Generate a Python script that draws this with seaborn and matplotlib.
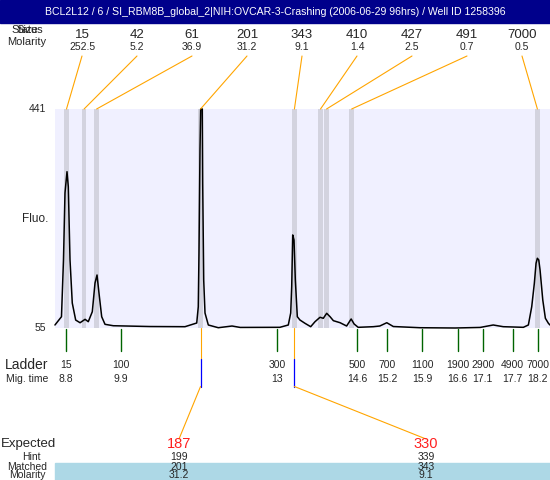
import numpy as np
import pandas as pd
import matplotlib
matplotlib.use("Agg")
import matplotlib.pyplot as plt
import matplotlib.transforms as mtransforms
from matplotlib.patches import Rectangle
import seaborn as sns

# electropherogram trace (migration time in s, fluorescence)
trace_time = [8.58, 8.71, 8.75, 8.78, 8.82, 8.846, 8.88, 8.925, 8.993, 9.08,
              9.18, 9.244, 9.324, 9.378, 9.418, 9.457, 9.511, 9.577, 9.742, 10.47,
              11.17, 11.404, 11.435, 11.449, 11.469, 11.483, 11.515, 11.523, 11.543, 11.569,
              11.635, 11.834, 12.107, 12.27, 13.06, 13.228, 13.276, 13.296, 13.316, 13.342,
              13.368, 13.408, 13.46, 13.56, 13.674, 13.76, 13.86, 13.925, 13.993, 14.06,
              14.126, 14.26, 14.39, 14.48, 14.54, 14.62, 14.92, 15.05, 15.19, 15.32,
              15.85, 16.55, 17.05, 17.31, 17.51, 17.91, 18.01, 18.077, 18.129, 18.163,
              18.189, 18.217, 18.243, 18.297, 18.349, 18.409, 18.44]
trace_fluo = [60.3, 74.9, 174.9, 293, 330.5, 304, 175, 99, 69, 64.3,
              70.3, 66.1, 83.7, 134.3, 148.4, 116.7, 74.9, 61.5, 59, 57.6,
              57.3, 63.8, 92.5, 187, 368.7, 441, 441, 310.6, 139.6, 81.4,
              60.3, 55.5, 58.5, 56, 56.2, 60.3, 81.4, 127.8, 219, 210,
              139.6, 74.9, 69.1, 63.3, 57.3, 66.1, 73.9, 72.1, 80.9, 74.9,
              67.9, 64.3, 58.5, 70.9, 62, 56.2, 57.3, 58.5, 64.3, 57.6,
              55.5, 55, 56, 60.3, 57.3, 56.2, 60.3, 92.5, 133.8, 169,
              177.9, 174.9, 157.2, 104.4, 72.1, 63.3, 60.3]

# called peaks
peak_size = ["15", "42", "61", "201", "343", "410", "427", "491", "7000"]
peak_molarity = ["252.5", "5.2", "36.9", "31.2", "9.1", "1.4", "2.5", "0.7", "0.5"]
peak_time = [8.81, 9.16, 9.41, 11.48, 13.35, 13.87, 13.99, 14.49, 18.19]

# ladder
ladder_size = ["15", "100", "300", "500", "700", "1100", "1900", "2900", "4900", "7000"]
ladder_time = [8.8, 9.9, 13, 14.6, 15.2, 15.9, 16.6, 17.1, 17.7, 18.2]

# expected / matched table
expected = ["187", "330"]
hint = ["199", "339"]
matched = ["201", "343"]
matched_molarity = ["31.2", "9.1"]
matched_time = [11.48, 13.35]

title = "BCL2L12 / 6 / SI_RBM8B_global_2|NIH:OVCAR-3-Crashing (2006-06-29 96hrs) / Well ID 1258396"

sns.set_style("white")
plt.rcParams["font.family"] = ["Liberation Sans", "DejaVu Sans"]

W, H = 550, 480
fig = plt.figure(figsize=(W / 100, H / 100), dpi=100)
fig.patch.set_facecolor("white")

# main trace axes
ax = fig.add_axes([55 / W, 1 - 328 / H, 495 / W, 219 / H])
ax.set_facecolor("#F0F0FF")
ax.set_xlim(8.581, 18.441)
ax.set_ylim(55, 441)

for t in peak_time:
    ax.axvspan(t - 0.047, t + 0.047, color="#D3D3DF", lw=0, zorder=1)

df = pd.DataFrame({"time": trace_time, "fluo": trace_fluo})
sns.lineplot(data=df, x="time", y="fluo", ax=ax, color="black", lw=1.1,
             sort=False, estimator=None, zorder=3)
ax.lines[-1].set_clip_on(False)
ax.set_xticks([])
ax.set_yticks([])
ax.set_xlabel("")
ax.set_ylabel("")
for s in ax.spines.values():
    s.set_visible(False)

# overlay in pixel coordinates for annotations
ov = fig.add_axes([0, 0, 1, 1], zorder=5)
ov.set_xlim(0, W)
ov.set_ylim(H, 0)
ov.axis("off")
ov.patch.set_alpha(0)

def px(t):
    return ov.transData.inverted().transform(ax.transData.transform((t, 55)))[0]

ytrans = mtransforms.blended_transform_factory(ov.transData, ax.transData)

orange = "#FFA500"
green = "#006400"
small = 7.5

# title bar
ov.add_patch(Rectangle((0, 0), W, 23, color="#00008B", zorder=3))
ov.text(W / 2, 12, title, color="white", ha="center", va="center", fontsize=7.6, zorder=4)
ov.text(27, 30, "Status", ha="center", va="center", fontsize=8, zorder=2)
ov.text(27, 30, "Size", ha="center", va="center", fontsize=8, zorder=2)
ov.text(27, 42, "Molarity", ha="center", va="center", fontsize=8)

# peak labels and leader lines
for i, (sz, mol, t) in enumerate(zip(peak_size, peak_molarity, peak_time)):
    lx = 82 + 55 * i
    ov.text(lx, 35, sz, ha="center", va="center", fontsize=9.5)
    ov.text(lx, 47, mol, ha="center", va="center", fontsize=small)
    ov.plot([lx, px(t)], [56, 109], color=orange, lw=0.8)

# y axis labels
ov.text(46, 441, "441", transform=ytrans, ha="right", va="center", fontsize=small)
ov.text(46, 55, "55", transform=ytrans, ha="right", va="center", fontsize=small)
ov.text(35, 248, "Fluo.", transform=ytrans, ha="center", va="center", fontsize=8.5)

# ladder
ov.text(27, 365, "Ladder", ha="center", va="center", fontsize=10)
ov.text(27, 379, "Mig. time", ha="center", va="center", fontsize=small)
for sz, t in zip(ladder_size, ladder_time):
    x = px(t)
    ov.plot([x, x], [329, 351], color=green, lw=1)
    ov.text(x, 365, sz, ha="center", va="center", fontsize=small)
    ov.text(x, 379, f"{t:g}", ha="center", va="center", fontsize=small)

# matched peak connectors
expected_x = [179, 426]
for t, ex in zip(matched_time, expected_x):
    x = px(t)
    ov.plot([x, x], [328, 358.5], color=orange, lw=0.8)
    ov.plot([x, x], [358.5, 386.5], color="#0000FF", lw=0.9)
    ov.plot([x, ex], [386.5, 439], color=orange, lw=0.8)

# bottom table
ov.add_patch(Rectangle((55, 463), W - 55, 17, color="#ADD8E6", zorder=0))
ov.text(1, 444, "Expected", ha="left", va="center", fontsize=9.5)
ov.text(31, 456.5, "Hint", ha="center", va="center", fontsize=small)
ov.text(27, 466.5, "Matched", ha="center", va="center", fontsize=small)
ov.text(27, 475.5, "Molarity", ha="center", va="center", fontsize=small)
for ex, e, h, m, mm in zip(expected_x, expected, hint, matched, matched_molarity):
    ov.text(ex, 444, e, color="#FF2020", ha="center", va="center", fontsize=10.5)
    ov.text(ex, 456.5, h, ha="center", va="center", fontsize=small)
    ov.text(ex, 466.5, m, ha="center", va="center", fontsize=small)
    ov.text(ex, 475.5, mm, ha="center", va="center", fontsize=small)

fig.savefig("out.png", dpi=100)
